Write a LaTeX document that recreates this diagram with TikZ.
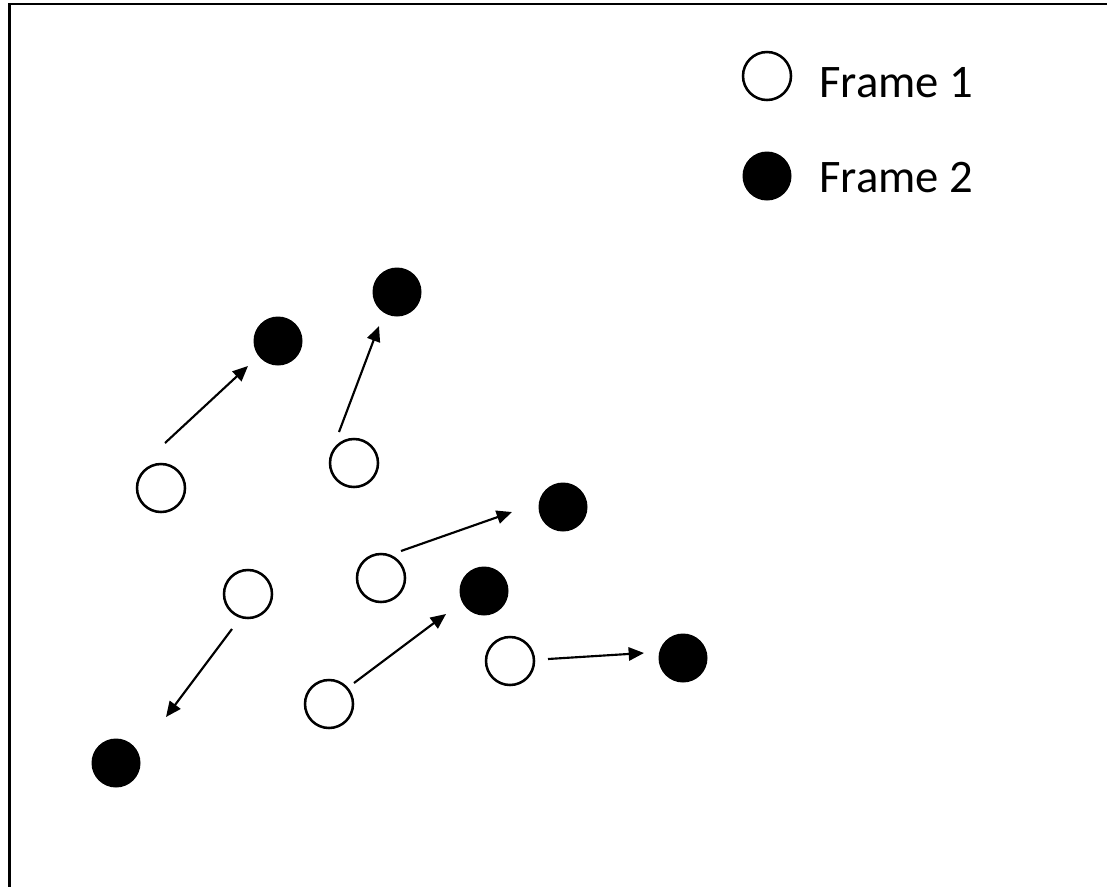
\documentclass[tikz,border=0pt]{standalone}
\usepackage{fontspec}
\setmainfont{Carlito}
\usetikzlibrary{arrows.meta}
\begin{document}
\begin{tikzpicture}[x=0.75pt,y=-0.75pt,
  open/.style={circle,draw=black,fill=white,line width=1.9pt,minimum size=48*0.75pt,inner sep=0pt},
  full/.style={circle,fill=black,minimum size=49*0.75pt,inner sep=0pt},
  move/.style={line width=1.6pt,-{Triangle[length=11.5pt,width=10pt]}},
  lbl/.style={anchor=base west,inner sep=0pt,font=\fontsize{35}{41}\selectfont}]
\useasboundingbox (0,0) rectangle (1107,886);
\clip (0,0) rectangle (1107,886);
% outer frame, running past the right and bottom edges
\draw[line width=2.2pt] (9.5,4) rectangle (1130,910);

% legend
\node[open] (k1) at (767,76) {};
\node[lbl] (t1) at (819,97) {Frame 1};
\node[full] (k2) at (767,176) {};
\node[lbl] (t2) at (819,192) {Frame 2};

% first frame positions
\node[open] (A) at (161,488) {};
\node[open] (B) at (354,463) {};
\node[open] (C) at (248,594) {};
\node[open] (D) at (381,578) {};
\node[open] (E) at (329,704) {};
\node[open] (F) at (510,661) {};

% second frame positions
\node[full] (a) at (278,341) {};
\node[full] (b) at (397,292) {};
\node[full] (c) at (563,507) {};
\node[full] (d) at (484,591) {};
\node[full] (e) at (116,763) {};
\node[full] (f) at (683,658) {};

% motion vectors
\coordinate (A0) at (165,443); \coordinate (a0) at (248,366);
\coordinate (B0) at (339,432); \coordinate (b0) at (379,326);
\coordinate (C0) at (232,629); \coordinate (e0) at (166,717);
\coordinate (D0) at (401,551); \coordinate (c0) at (512,512);
\coordinate (E0) at (354,683); \coordinate (d0) at (446,614);
\coordinate (F0) at (548,659); \coordinate (f0) at (644,653);
\draw[move] (A0) -- (a0);
\draw[move] (B0) -- (b0);
\draw[move] (C0) -- (e0);
\draw[move] (D0) -- (c0);
\draw[move] (E0) -- (d0);
\draw[move] (F0) -- (f0);
\end{tikzpicture}
\end{document}
